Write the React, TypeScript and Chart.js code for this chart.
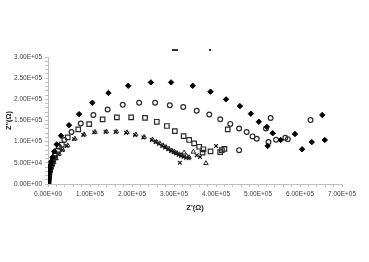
import React, { useEffect, useRef } from 'react';
import { Chart, registerables } from 'chart.js';

Chart.register(...registerables);

// values in units of 1e5 Ohm
const UNIT = 1e5;

const xMin = 0;
const xMax = 7;
const yMin = 0;
const yMax = 3;
const xMajorStep = 1;
const yMajorStep = 0.5;
const xMinorStep = 0.2;
const yMinorStep = 0.1;

const xTitle = "Z'(Ω)";
const yTitle = "Z''(Ω)";

// Series 1 – filled diamonds
const diamondX = [0.002, 0.004, 0.007, 0.011, 0.016, 0.022, 0.03, 0.042, 0.058, 0.08, 0.11, 0.15, 0.207, 0.31, 0.5, 0.74, 1.055, 1.44, 1.91, 2.45, 2.93, 3.445, 3.87, 4.24, 4.57, 4.83, 5.02, 5.21, 5.35, 5.54, 5.23, 5.88, 6.05, 6.28, 6.53, 6.59];
const diamondY = [0.015, 0.04, 0.08, 0.12, 0.17, 0.23, 0.29, 0.36, 0.44, 0.53, 0.63, 0.77, 0.936, 1.14, 1.39, 1.65, 1.92, 2.15, 2.32, 2.4, 2.4, 2.32, 2.18, 2.0, 1.84, 1.66, 1.47, 1.35, 1.2, 1.04, 0.9, 1.18, 0.82, 0.99, 1.63, 1.04];

// Series 2 – open circles
const circleX = [0.002, 0.004, 0.007, 0.011, 0.016, 0.023, 0.032, 0.044, 0.06, 0.085, 0.12, 0.17, 0.26, 0.39, 0.56, 0.78, 1.08, 1.42, 1.78, 2.17, 2.55, 2.9, 3.22, 3.54, 3.84, 4.1, 4.34, 4.55, 4.73, 4.87, 4.97, 5.19, 5.3, 5.25, 5.43, 5.65, 5.71, 6.25, 4.55];
const circleY = [0.01, 0.035, 0.07, 0.11, 0.16, 0.21, 0.27, 0.33, 0.4, 0.49, 0.6, 0.72, 0.88, 1.04, 1.23, 1.43, 1.63, 1.76, 1.87, 1.92, 1.92, 1.86, 1.82, 1.73, 1.64, 1.53, 1.42, 1.31, 1.23, 1.125, 1.07, 1.31, 1.56, 0.99, 1.045, 1.09, 1.06, 1.51, 0.8];

// Series 3 – open squares
const squareX = [0.002, 0.004, 0.007, 0.011, 0.016, 0.023, 0.032, 0.044, 0.06, 0.085, 0.12, 0.17, 0.24, 0.33, 0.47, 0.72, 0.98, 1.3, 1.64, 1.98, 2.31, 2.59, 2.83, 3.02, 3.23, 3.36, 3.48, 3.6, 3.7, 3.68, 3.87, 4.1, 4.14, 4.2, 4.28];
const squareY = [0.012, 0.04, 0.075, 0.115, 0.165, 0.215, 0.27, 0.33, 0.39, 0.47, 0.57, 0.67, 0.79, 0.93, 1.1, 1.29, 1.415, 1.526, 1.573, 1.573, 1.564, 1.47, 1.37, 1.25, 1.13, 1.04, 0.96, 0.88, 0.82, 0.74, 0.77, 0.755, 0.8, 0.83, 1.29];

// Series 4 – crosses
const crossX = [0.002, 0.004, 0.007, 0.011, 0.016, 0.022, 0.03, 0.04, 0.055, 0.075, 0.1, 0.13, 0.18, 0.25, 0.34, 0.445, 0.62, 0.84, 1.1, 1.37, 1.61, 1.86, 2.07, 2.27, 2.47, 2.56, 2.64, 2.72, 2.79, 2.86, 2.93, 2.99, 3.05, 3.11, 3.17, 3.23, 3.29, 3.35, 3.14, 3.54, 3.62, 4.0];
const crossY = [0.01, 0.03, 0.06, 0.1, 0.14, 0.18, 0.23, 0.28, 0.33, 0.39, 0.45, 0.51, 0.6, 0.7, 0.8, 0.896, 1.06, 1.156, 1.22, 1.23, 1.23, 1.21, 1.156, 1.1, 1.04, 0.99, 0.95, 0.9, 0.86, 0.82, 0.78, 0.75, 0.72, 0.69, 0.66, 0.64, 0.62, 0.61, 0.5, 0.68, 0.64, 0.9];

// Series 5 – open triangles
const triX = [0.002, 0.005, 0.008, 0.012, 0.017, 0.024, 0.032, 0.043, 0.058, 0.08, 0.105, 0.14, 0.19, 0.26, 0.35, 0.47, 0.64, 0.86, 1.12, 1.39, 1.63, 1.88, 2.09, 2.29, 2.49, 2.58, 2.66, 2.74, 2.81, 2.88, 2.95, 3.01, 3.07, 3.13, 3.19, 3.24, 3.3, 3.46, 3.76, 3.36];
const triY = [0.01, 0.035, 0.065, 0.105, 0.145, 0.19, 0.24, 0.29, 0.34, 0.4, 0.46, 0.52, 0.61, 0.71, 0.81, 0.91, 1.07, 1.17, 1.23, 1.24, 1.24, 1.22, 1.17, 1.11, 1.05, 1.0, 0.96, 0.91, 0.87, 0.83, 0.79, 0.76, 0.73, 0.7, 0.68, 0.74, 0.66, 0.76, 0.49, 0.63];

const toPoints = (xs: number[], ys: number[]) => xs.map((x, i) => ({ x: x * UNIT, y: ys[i] * UNIT }));

const fmtSci = (v: number) => {
  if (Math.abs(v) < 1e-9) return '0.00E+00';
  const e = Math.floor(Math.log10(Math.abs(v)) + 1e-9);
  const m = v / Math.pow(10, e);
  return `${m.toFixed(2)}E+${String(e).padStart(2, '0')}`;
};

const isMultiple = (v: number, step: number) => {
  const r = v / step;
  return Math.abs(r - Math.round(r)) < 1e-6;
};

const AXIS_GRAY = '#bfbfbf';
const TEXT_GRAY = '#404040';
const FONT = "'Liberation Sans', Arial, sans-serif";

const legendMarks = {
  id: 'legendMarks',
  afterDraw(chart: any) {
    const { ctx, chartArea } = chart;
    const cx = (chartArea.left + chartArea.right) / 2;
    const y = chartArea.top - 8;
    ctx.save();
    ctx.fillStyle = '#333';
    ctx.fillRect(cx - 23, y, 6, 2);
    ctx.fillRect(cx + 14, y, 2, 2);
    ctx.restore();
  },
};

export default function App() {
  const ref = useRef<HTMLCanvasElement | null>(null);

  useEffect(() => {
    document.body.style.margin = '0';
    const canvas = ref.current;
    if (!canvas) return;
    const chart = new Chart(canvas, {
      type: 'scatter',
      data: {
        datasets: [
          {
            label: 'Series 1',
            data: toPoints(diamondX, diamondY),
            pointStyle: 'rectRot',
            pointRadius: 2.7,
            backgroundColor: '#000',
            borderColor: '#000',
            borderWidth: 1,
          },
          {
            label: 'Series 2',
            data: toPoints(circleX, circleY),
            pointStyle: 'circle',
            pointRadius: 2.4,
            backgroundColor: 'rgba(255,255,255,0)',
            borderColor: '#2a2a2a',
            borderWidth: 1.2,
          },
          {
            label: 'Series 3',
            data: toPoints(squareX, squareY),
            pointStyle: 'rect',
            pointRadius: 3.2,
            backgroundColor: 'rgba(255,255,255,0)',
            borderColor: '#2a2a2a',
            borderWidth: 1.2,
          },
          {
            label: 'Series 4',
            data: toPoints(crossX, crossY),
            pointStyle: 'crossRot',
            pointRadius: 2.6,
            backgroundColor: '#000',
            borderColor: '#111',
            borderWidth: 1.1,
          },
          {
            label: 'Series 5',
            data: toPoints(triX, triY),
            pointStyle: 'triangle',
            pointRadius: 2.6,
            backgroundColor: 'rgba(255,255,255,0)',
            borderColor: '#2a2a2a',
            borderWidth: 1,
          },
        ],
      },
      options: {
        animation: false,
        responsive: false,
        maintainAspectRatio: false,
        layout: { padding: { left: 0, right: 27, top: 57, bottom: 48 } },
        plugins: {
          legend: { display: false },
          tooltip: { enabled: false },
        },
        scales: {
          x: {
            type: 'linear',
            min: xMin * UNIT,
            max: xMax * UNIT,
            afterFit: (s: any) => {
              s.height = 30;
            },
            ticks: {
              stepSize: xMinorStep * UNIT,
              autoSkip: false,
              maxRotation: 0,
              padding: 3,
              color: TEXT_GRAY,
              font: { family: FONT, size: 6.5 },
              callback: (v: any) => (isMultiple(Number(v), xMajorStep * UNIT) ? fmtSci(Number(v)) : ''),
            },
            grid: { display: true, drawOnChartArea: false, drawTicks: true, tickLength: 3, color: AXIS_GRAY },
            border: { display: true, color: AXIS_GRAY },
            title: {
              display: true,
              text: xTitle,
              color: '#222',
              font: { family: FONT, size: 7.5, weight: 'bold' },
              padding: { top: 2, bottom: 2 },
            },
          },
          y: {
            type: 'linear',
            min: yMin * UNIT,
            max: yMax * UNIT,
            afterFit: (s: any) => {
              s.width = 48;
            },
            ticks: {
              stepSize: yMinorStep * UNIT,
              autoSkip: false,
              padding: 3,
              color: TEXT_GRAY,
              font: { family: FONT, size: 6.5 },
              callback: (v: any) => (isMultiple(Number(v), yMajorStep * UNIT) ? fmtSci(Number(v)) : ''),
            },
            grid: { display: true, drawOnChartArea: false, drawTicks: true, tickLength: 3, color: AXIS_GRAY },
            border: { display: true, color: AXIS_GRAY },
            title: {
              display: true,
              text: yTitle,
              color: '#222',
              font: { family: FONT, size: 7.5, weight: 'bold' },
              padding: { top: 4, bottom: 2 },
            },
          },
        },
      },
      plugins: [legendMarks],
    });
    return () => chart.destroy();
  }, []);

  return (
    <div style={{ position: 'fixed', left: 0, top: 0, width: 369, height: 262, background: '#fff' }}>
      <canvas ref={ref} width={369} height={262} style={{ width: 369, height: 262, display: 'block' }} />
    </div>
  );
}
